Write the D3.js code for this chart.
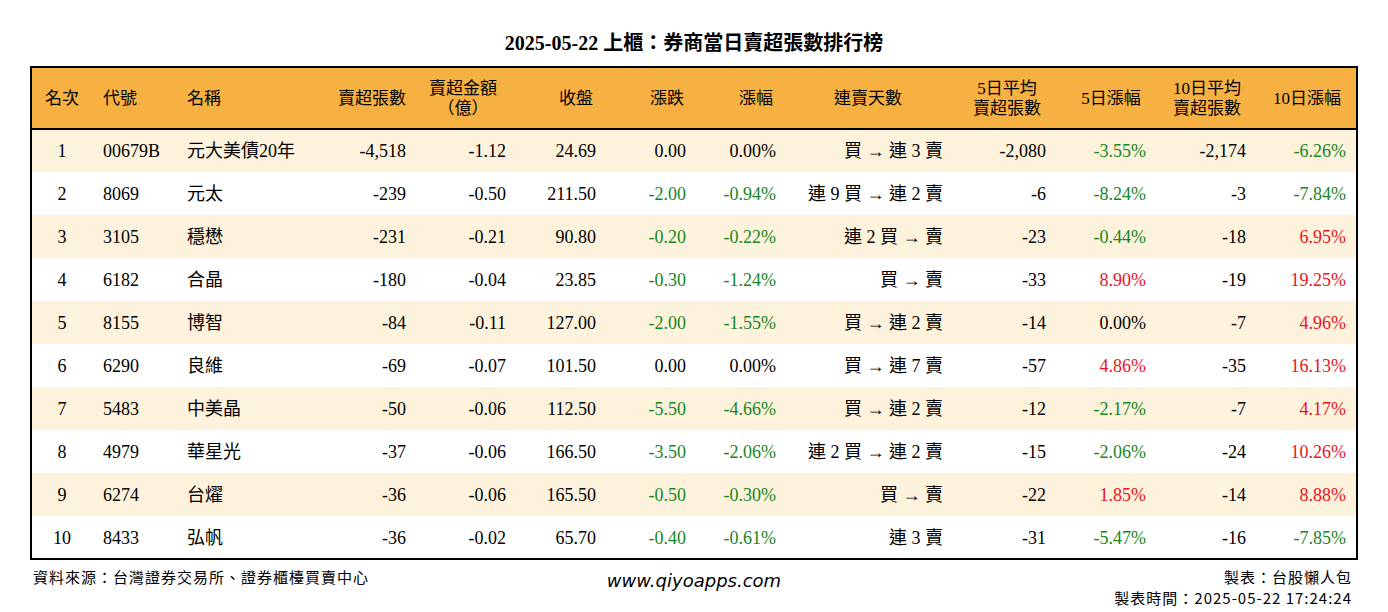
<!DOCTYPE html>
<html><head><meta charset="utf-8">
<script src="https://cdn.jsdelivr.net/npm/d3@7"></script>
<style>body{margin:0;background:#fff}</style></head>
<body><svg id="c" width="1388" height="612"></svg>
<script>
const title = "2025-05-22 上櫃：券商當日賣超張數排行榜";
const ranks = [1,2,3,4,5,6,7,8,9,10];
const codes = ["00679B","8069","3105","6182","8155","6290","5483","4979","6274","8433"];
const names = ["元大美債20年","元太","穩懋","合晶","博智","良維","中美晶","華星光","台燿","弘帆"];
const sellQty = [-4518,-239,-231,-180,-84,-69,-50,-37,-36,-36];
const sellAmt = [-1.12,-0.50,-0.21,-0.04,-0.11,-0.07,-0.06,-0.06,-0.06,-0.02];
const closes = [24.69,211.50,90.80,23.85,127.00,101.50,112.50,166.50,165.50,65.70];
const changes = [0.00,-2.00,-0.20,-0.30,-2.00,0.00,-5.50,-3.50,-0.50,-0.40];
const pct = [0.00,-0.94,-0.22,-1.24,-1.55,0.00,-4.66,-2.06,-0.30,-0.61];
const streak = ["買 → 連 3 賣","連 9 買 → 連 2 賣","連 2 買 → 賣","買 → 賣","買 → 連 2 賣","買 → 連 7 賣","買 → 連 2 賣","連 2 買 → 連 2 賣","買 → 賣","連 3 賣"];
const avg5 = [-2080,-6,-23,-33,-14,-57,-12,-15,-22,-31];
const pct5 = [-3.55,-8.24,-0.44,8.90,0.00,4.86,-2.17,-2.06,1.85,-5.47];
const avg10 = [-2174,-3,-18,-19,-7,-35,-7,-24,-14,-16];
const pct10 = [-6.26,-7.84,6.95,19.25,4.96,16.13,4.17,10.26,8.88,-7.85];

const svg = d3.select("#c");
const L=31,R=1357,T=67,H=62,rowH=43;
const y = d3.scaleBand().domain(d3.range(10)).range([T+H,T+H+rowH*10]);
const serif = "'Liberation Serif','Noto Sans CJK TC',serif";
const RED="#e8141e", GREEN="#16861e";
const col = v => v>0?RED:(v<0?GREEN:"#000");
const hy = s => s.replace(/\u2212/g,"-");
const f2 = d=>hy(d3.format(".2f")(d)), fc = d=>hy(d3.format(",")(d));

svg.append("text").attr("x",694).attr("y",50).attr("text-anchor","middle")
  .attr("font-family",serif).attr("font-size",20).attr("font-weight",600).text(title);

svg.append("rect").attr("x",L).attr("y",T).attr("width",R-L).attr("height",H).attr("fill","#f6b142");
svg.selectAll(".rowbg").data(d3.range(10)).join("rect")
  .attr("x",L).attr("y",i=>y(i)).attr("width",R-L).attr("height",rowH)
  .attr("fill",i=>i%2===0?"#fdf2dc":"#fff");
svg.append("line").attr("x1",L).attr("x2",R).attr("y1",T+H).attr("y2",T+H).attr("stroke","#000").attr("stroke-width",2);
svg.append("rect").attr("x",L).attr("y",T).attr("width",R-L).attr("height",H+rowH*10)
  .attr("fill","none").attr("stroke","#000").attr("stroke-width",2);

const headers = [
 {t:["名次"],x:62,a:"middle"},{t:["代號"],x:103,a:"start"},{t:["名稱"],x:187,a:"start"},
 {t:["賣超張數"],x:406,a:"end"},{t:["賣超金額","（億）"],x:463,a:"middle"},{t:["收盤"],x:576,a:"middle"},
 {t:["漲跌"],x:667,a:"middle"},{t:["漲幅"],x:756,a:"middle"},{t:["連賣天數"],x:868,a:"middle"},
 {t:["5日平均","賣超張數"],x:1007,a:"middle"},{t:["5日漲幅"],x:1111,a:"middle"},
 {t:["10日平均","賣超張數"],x:1207,a:"middle"},{t:["10日漲幅"],x:1307,a:"middle"}];
headers.forEach(h=>{
  const n=h.t.length;
  h.t.forEach((s,k)=>{
    svg.append("text").attr("x",h.x).attr("y",T+H/2+6+(n===2?(k===0?-10:10):0))
      .attr("text-anchor",h.a).attr("font-family",serif).attr("font-size",17).text(s);
  });
});

const cols = [
 {v:ranks,x:62,a:"middle",f:d=>d},
 {v:codes,x:103,a:"start",f:d=>d},
 {v:names,x:187,a:"start",f:d=>d},
 {v:sellQty,x:406,a:"end",f:fc},
 {v:sellAmt,x:506,a:"end",f:f2},
 {v:closes,x:596,a:"end",f:f2},
 {v:changes,x:686,a:"end",f:f2,c:col},
 {v:pct,x:776,a:"end",f:d=>f2(d)+"%",c:col},
 {v:streak,x:943,a:"end",f:d=>d},
 {v:avg5,x:1046,a:"end",f:fc},
 {v:pct5,x:1146,a:"end",f:d=>f2(d)+"%",c:col},
 {v:avg10,x:1246,a:"end",f:fc},
 {v:pct10,x:1346,a:"end",f:d=>f2(d)+"%",c:col}];
cols.forEach(c=>{
  svg.append("g").selectAll("text").data(c.v).join("text")
    .attr("x",c.x).attr("y",(d,i)=>y(i)+rowH/2+6).attr("text-anchor",c.a)
    .attr("font-family",serif).attr("font-size",18)
    .attr("fill",d=>c.c?c.c(d):"#000").text(c.f);
});

const sans="'Noto Sans CJK TC','DejaVu Sans',sans-serif";
svg.append("text").attr("x",33).attr("y",583).attr("font-family",sans).attr("font-size",15).attr("letter-spacing",1).text("資料來源：台灣證券交易所、證券櫃檯買賣中心");
svg.append("text").attr("x",694).attr("y",587).attr("text-anchor","middle").attr("font-family","'DejaVu Sans',sans-serif").attr("font-style","italic").attr("font-size",18).text("www.qiyoapps.com");
svg.append("text").attr("x",1352).attr("y",583).attr("text-anchor","end").attr("font-family",sans).attr("font-size",15).attr("letter-spacing",1).text("製表：台股懶人包");
svg.append("text").attr("x",1352).attr("y",604).attr("text-anchor","end").attr("font-family",sans).attr("font-size",15).attr("letter-spacing",1).text("製表時間：2025-05-22 17:24:24");
</script></body></html>
